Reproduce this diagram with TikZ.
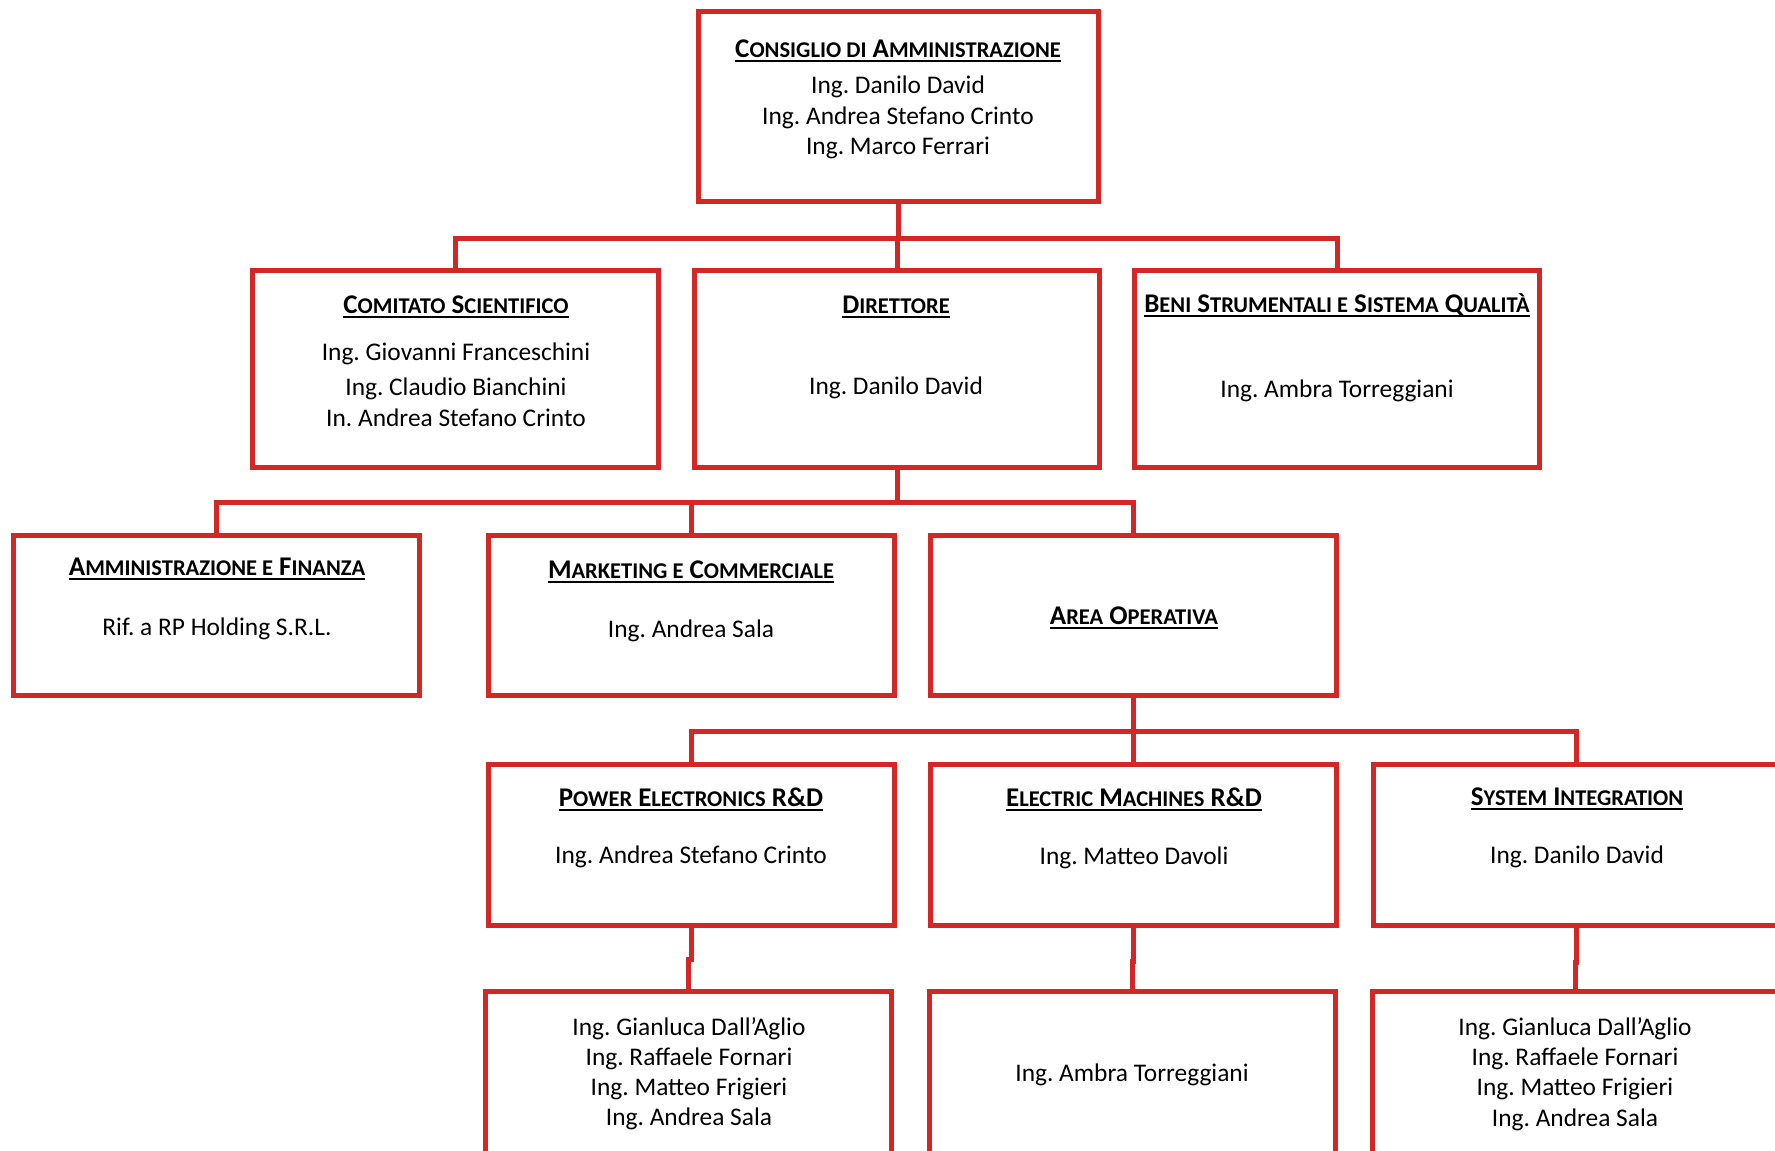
\documentclass[tikz,border=0pt]{standalone}
\usepackage{fontspec}
\setmainfont{Carlito}
\frenchspacing
\definecolor{orgred}{RGB}{211,39,37}
\newcommand\ts[1]{{\fontsize{22.5}{26}\selectfont #1}}
\newcommand\ttl[1]{\setbox0\hbox{#1}\rlap{\rule[-4.5pt]{\wd0}{2pt}}\box0}
\tikzset{
  box/.style={draw=orgred, line width=5pt, fill=white, rectangle, inner sep=0pt},
  conn/.style={draw=orgred, line width=5pt},
  ttlstyle/.style={anchor=base, inner sep=0pt, font=\bfseries\fontsize{27}{31}\selectfont},
  body/.style={anchor=base, inner sep=0pt, font=\fontsize{25.4}{30}\selectfont}
}
\begin{document}
\begin{tikzpicture}[x=1pt,y=-1pt]
\useasboundingbox (0,0) rectangle (1775,1151);
\clip (0,0) rectangle (1775,1151);
\fill[white] (0,0) rectangle (1775,1151);

% boxes
\node[box, minimum width=400, minimum height=190] (cda) at (898,106.5) {};
\node[box, minimum width=406, minimum height=197] (cs) at (455.5,369) {};
\node[box, minimum width=405, minimum height=197] (dir) at (897,369) {};
\node[box, minimum width=405, minimum height=197] (beni) at (1337,369) {};
\node[box, minimum width=406, minimum height=160] (af) at (216.6,615) {};
\node[box, minimum width=406, minimum height=160] (mk) at (691,615) {};
\node[box, minimum width=406, minimum height=160] (ao) at (1133.5,615) {};
\node[box, minimum width=406, minimum height=161] (pe) at (691,845) {};
\node[box, minimum width=406, minimum height=161] (em) at (1133.5,845) {};
\node[box, minimum width=406, minimum height=161] (si) at (1576,845) {};
\node[box, minimum width=406, minimum height=200] (pel) at (688.5,1091) {};
\node[box, minimum width=406, minimum height=200] (eml) at (1132,1091) {};
\node[box, minimum width=406, minimum height=200] (sil) at (1575,1091) {};

% connectors
\draw[conn] (cda.south) -- ++(0,34) coordinate (bus1);
\draw[conn] (cs.north) |- (bus1) -| (beni.north);
\draw[conn] (dir.north) -- (dir.north |- bus1);
\draw[conn] (dir.south) -- ++(0,32) coordinate (bus2);
\draw[conn] (af.north) |- (bus2) -| (ao.north);
\draw[conn] (mk.north) -- (mk.north |- bus2);
\draw[conn] (ao.south) -- ++(0,34) coordinate (bus3);
\draw[conn] (pe.north) |- (bus3) -| (si.north);
\draw[conn] (em.north) -- (em.north |- bus3);
\draw[conn] (pe.south) -- ++(0,31) -| (pel.north);
\draw[conn] (em.south) -- ++(0,33) -| (eml.north);
\draw[conn] (si.south) -- ++(0,34) -| (sil.north);

% texts
\node[ttlstyle] (cda-t) at (898,57) {\ttl{C\ts{ONSIGLIO DI} A\ts{MMINISTRAZIONE}}};
\node[body] (cda-1) at (898,93) {Ing. Danilo David};
\node[body] (cda-2) at (898,124) {Ing. Andrea Stefano Crinto};
\node[body] (cda-3) at (898,154) {Ing. Marco Ferrari};

\node[ttlstyle] (cs-t) at (456,313) {\ttl{C\ts{OMITATO} S\ts{CIENTIFICO}}};
\node[body] (cs-1) at (456,360) {Ing. Giovanni Franceschini};
\node[body] (cs-2) at (456,395) {Ing. Claudio Bianchini};
\node[body] (cs-3) at (456,426) {In. Andrea Stefano Crinto};

\node[ttlstyle] (dir-t) at (896,313) {\ttl{D\ts{IRETTORE}}};
\node[body] (dir-1) at (896,394) {Ing. Danilo David};

\node[ttlstyle] (beni-t) at (1337,312) {\ttl{B\ts{ENI} S\ts{TRUMENTALI E} S\ts{ISTEMA} Q\ts{UALITÀ}}};
\node[body] (beni-1) at (1337,397) {Ing. Ambra Torreggiani};

\node[ttlstyle] (af-t) at (217,575) {\ttl{A\ts{MMINISTRAZIONE E} F\ts{INANZA}}};
\node[body] (af-1) at (217,635) {Rif. a RP Holding S.R.L.};

\node[ttlstyle] (mk-t) at (691,578) {\ttl{M\ts{ARKETING E} C\ts{OMMERCIALE}}};
\node[body] (mk-1) at (691,637) {Ing. Andrea Sala};

\node[ttlstyle] (ao-t) at (1134,624) {\ttl{A\ts{REA} O\ts{PERATIVA}}};

\node[ttlstyle] (pe-t) at (691,806) {\ttl{P\ts{OWER} E\ts{LECTRONICS} R\&D}};
\node[body] (pe-1) at (691,863) {Ing. Andrea Stefano Crinto};

\node[ttlstyle] (em-t) at (1134,806) {\ttl{E\ts{LECTRIC} M\ts{ACHINES} R\&D}};
\node[body] (em-1) at (1134,864) {Ing. Matteo Davoli};

\node[ttlstyle] (si-t) at (1577,805) {\ttl{S\ts{YSTEM} I\ts{NTEGRATION}}};
\node[body] (si-1) at (1577,863) {Ing. Danilo David};

\node[body] (pel-1) at (689,1035) {Ing. Gianluca Dall’Aglio};
\node[body] (pel-2) at (689,1065) {Ing. Raffaele Fornari};
\node[body] (pel-3) at (689,1095) {Ing. Matteo Frigieri};
\node[body] (pel-4) at (689,1125) {Ing. Andrea Sala};

\node[body] (eml-1) at (1132,1081) {Ing. Ambra Torreggiani};

\node[body] (sil-1) at (1575,1035) {Ing. Gianluca Dall’Aglio};
\node[body] (sil-2) at (1575,1065) {Ing. Raffaele Fornari};
\node[body] (sil-3) at (1575,1095) {Ing. Matteo Frigieri};
\node[body] (sil-4) at (1575,1126) {Ing. Andrea Sala};
\end{tikzpicture}
\end{document}
